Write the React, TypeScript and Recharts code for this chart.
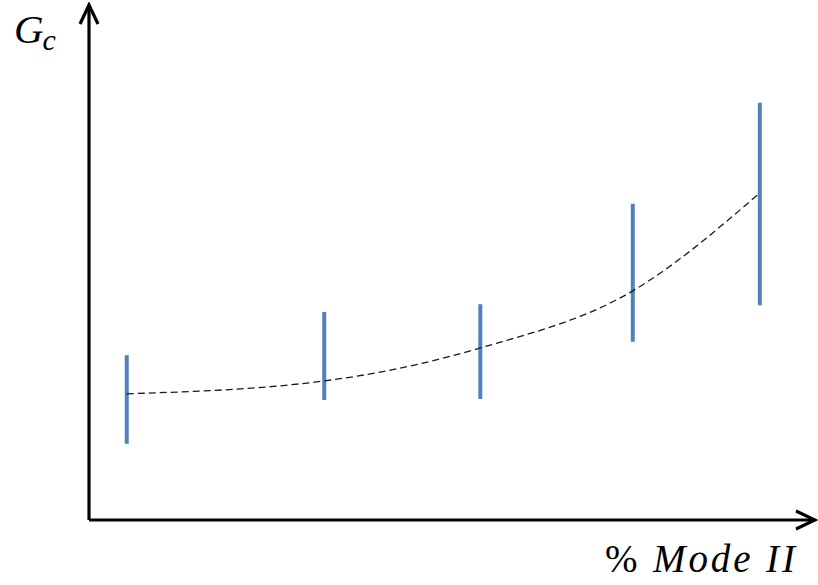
import { ComposedChart, Line, ErrorBar, XAxis, YAxis } from 'recharts';

// % mode II at each test point
const modeII = [5.2, 32.4, 53.9, 74.9, 92.4];
// fitted trend of Gc through the points
const gcTrend = [24.5, 27.0, 33.4, 44.5, 63.5];
// scatter band of Gc at each point
const gcLow = [14.8, 23.3, 23.5, 34.6, 41.7];
const gcHigh = [32.0, 40.4, 41.9, 61.4, 81.0];

const data = modeII.map((m, i) => ({
  mode: m,
  gc: gcTrend[i],
  band: [gcTrend[i] - gcLow[i], gcHigh[i] - gcTrend[i]],
}));

const FONT = "'Liberation Serif', 'DejaVu Serif', serif";

function GcLabel(props: any) {
  const vb = props.viewBox || { x: 0, y: 5 };
  return (
    <text x={14} y={vb.y + 38} fontFamily={FONT} fill="#000">
      <tspan fontSize={41} fontStyle="italic">G</tspan>
      <tspan fontSize={30} fontStyle="italic" dx={-1} dy={7}>c</tspan>
    </text>
  );
}

function ModeLabel(props: any) {
  const vb = props.viewBox || { x: 89, y: 520, width: 726 };
  return (
    <text
      x={vb.x + vb.width - 20}
      y={vb.y + 52}
      textAnchor="end"
      fontFamily={FONT}
      fontSize={39}
      fill="#000"
      textLength={190}
      lengthAdjust="spacing"
    >
      <tspan>%</tspan>
      <tspan fontStyle="italic"> Mode II</tspan>
    </text>
  );
}

export default function App() {
  return (
    <div style={{ position: 'absolute', left: 0, top: 0, background: '#fff' }}>
      <ComposedChart
        width={818}
        height={585}
        data={data}
        margin={{ top: 5, right: 3, bottom: 0, left: 0 }}
      >
        <defs>
          <marker
            id="arrowHead"
            markerUnits="userSpaceOnUse"
            viewBox="0 0 24 24"
            markerWidth={24}
            markerHeight={24}
            refX={21}
            refY={12}
            orient="auto-start-reverse"
          >
            <path d="M2,3 L21,12 L2,21" fill="none" stroke="#000" strokeWidth={3.2} />
          </marker>
        </defs>
        <XAxis
          dataKey="mode"
          type="number"
          domain={[0, 100]}
          height={65}
          tick={false}
          tickLine={false}
          axisLine={{ stroke: '#000', strokeWidth: 3.2, markerEnd: 'url(#arrowHead)' }}
          label={<ModeLabel />}
        />
        <YAxis
          type="number"
          domain={[0, 100]}
          width={89}
          tick={false}
          tickLine={false}
          axisLine={{ stroke: '#000', strokeWidth: 3.2, markerStart: 'url(#arrowHead)' }}
          label={<GcLabel />}
        />
        <Line
          type="monotone"
          dataKey="gc"
          stroke="#1a1a1a"
          strokeWidth={1.3}
          strokeDasharray="7 4"
          dot={false}
          activeDot={false}
          isAnimationActive={false}
        >
          <ErrorBar
            dataKey="band"
            direction="y"
            width={0}
            stroke="#4F81BD"
            strokeWidth={4}
            isAnimationActive={false}
          />
        </Line>
      </ComposedChart>
    </div>
  );
}
